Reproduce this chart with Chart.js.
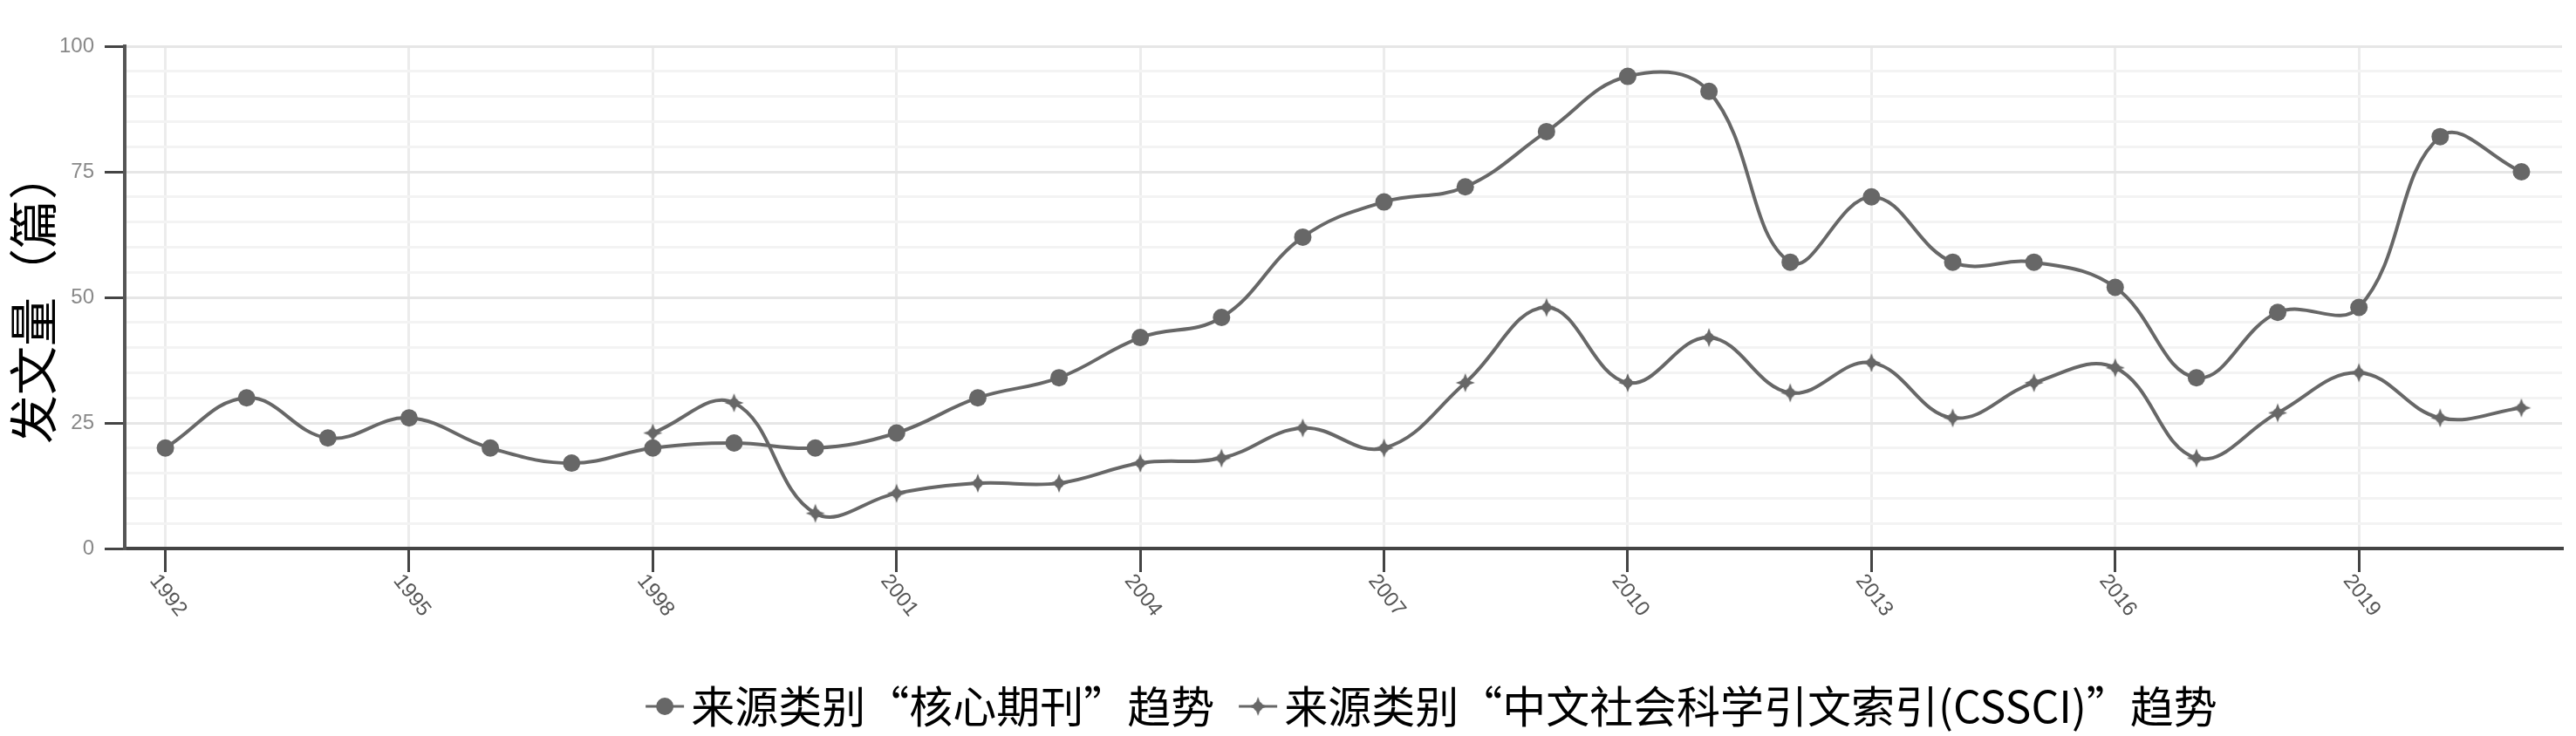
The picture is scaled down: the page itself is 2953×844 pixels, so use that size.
<!DOCTYPE html>
<html>
<head>
<meta charset="utf-8">
<script src="https://cdn.jsdelivr.net/npm/chart.js@4/dist/chart.umd.min.js"></script>
<style>
  html, body { margin: 0; padding: 0; background: #ffffff; }
  #wrap { position: relative; width: 2953px; height: 844px; }
</style>
</head>
<body>
<div id="wrap"><canvas id="c"></canvas></div>
<script>
// ---- data ----
const years = ['1992','1993','1994','1995','1996','1997','1998','1999','2000','2001',
               '2002','2003','2004','2005','2006','2007','2008','2009','2010','2011',
               '2012','2013','2014','2015','2016','2017','2018','2019','2020','2021'];
const coreValues = [20,30,22,26,20,17,20,21,20,23,
                    30,34,42,46,62,69,72,83,94,91,
                    57,70,57,57,52,34,47,48,82,75];
const cssciValues = [null,null,null,null,null,null,23,29,7,11,
                     13,13,17,18,24,20,33,48,33,42,
                     31,37,26,33,36,18,27,35,26,28];
const xTickLabels = ['1992','1995','1998','2001','2004','2007','2010','2013','2016','2019'];
const yTickLabels = [0,25,50,75,100];
const seriesNames = ['来源类别“核心期刊”趋势', '来源类别“中文社会科学引文索引(CSSCI)”趋势'];
const yAxisTitle = '发文量（篇）';

// ---- styles ----
const LINE = '#676767';
const CJK = '"Noto Sans CJK SC", "Noto Sans", sans-serif';

function makeStar(r) {
  const s = 2 * r + 4;
  const c = document.createElement('canvas');
  c.width = s; c.height = s;
  const g = c.getContext('2d');
  g.translate(s / 2, s / 2);
  g.fillStyle = LINE;
  const k = r * 0.38;
  g.beginPath();
  for (let i = 0; i < 8; i++) {
    const a = -Math.PI / 2 + i * Math.PI / 4;
    const rad = (i % 2 === 0) ? r : k;
    const px = Math.cos(a) * rad, py = Math.sin(a) * rad;
    if (i === 0) g.moveTo(px, py); else g.lineTo(px, py);
  }
  g.closePath();
  g.fill();
  g.beginPath();
  g.arc(0, 0, r * 0.5, 0, Math.PI * 2);
  g.fill();
  return c;
}
const starImg = makeStar(11);

const xLabelPlugin = {
  id: 'rotatedXLabels',
  afterDraw(chart) {
    const xs = chart.scales.x;
    const ctx = chart.ctx;
    ctx.save();
    ctx.font = '24px "Liberation Sans", Arial, sans-serif';
    ctx.fillStyle = '#555555';
    ctx.textAlign = 'center';
    ctx.textBaseline = 'middle';
    xTickLabels.forEach(lbl => {
      const i = years.indexOf(lbl);
      const px = xs.getPixelForValue(i);
      const py = xs.top + 54;
      ctx.save();
      ctx.translate(px + 3, py);
      ctx.rotate(52 * Math.PI / 180);
      ctx.fillText(lbl, 0, 0);
      ctx.restore();
    });
    ctx.restore();
  }
};

const legendPlugin = {
  id: 'bottomLegend',
  afterDraw(chart) {
    const ctx = chart.ctx;
    const ds = chart.data.datasets;
    ctx.save();
    ctx.font = '50px ' + CJK;
    const markerW = 44, gapText = 8, gapItem = 28;
    const widths = ds.map(d => ctx.measureText(d.label).width);
    const total = widths.reduce((a, b) => a + b, 0) + ds.length * (markerW + gapText) + (ds.length - 1) * gapItem;
    let x = 1641 - total / 2;
    const y = 810;
    ds.forEach((d, i) => {
      ctx.strokeStyle = LINE;
      ctx.lineWidth = 3;
      ctx.beginPath();
      ctx.moveTo(x, y);
      ctx.lineTo(x + markerW, y);
      ctx.stroke();
      const cx = x + markerW / 2;
      if (i === 0) {
        ctx.fillStyle = LINE;
        ctx.beginPath();
        ctx.arc(cx, y, 10, 0, Math.PI * 2);
        ctx.fill();
      } else {
        ctx.drawImage(starImg, cx - starImg.width / 2, y - starImg.height / 2);
      }
      x += markerW + gapText;
      ctx.fillStyle = '#000000';
      ctx.textAlign = 'left';
      ctx.textBaseline = 'middle';
      ctx.fillText(d.label, x, y);
      x += widths[i] + gapItem;
    });
    ctx.restore();
  }
};

new Chart(document.getElementById('c'), {
  type: 'line',
  data: {
    labels: years,
    datasets: [
      {
        label: seriesNames[0],
        data: coreValues,
        borderColor: LINE,
        backgroundColor: LINE,
        borderWidth: 4,
        tension: 0.4,
        pointStyle: 'circle',
        pointRadius: 10,
        pointBorderWidth: 0,
        pointBackgroundColor: LINE,
        fill: false
      },
      {
        label: seriesNames[1],
        data: cssciValues,
        borderColor: LINE,
        backgroundColor: LINE,
        borderWidth: 4,
        tension: 0.4,
        pointStyle: starImg,
        pointRadius: 11,
        pointBorderWidth: 0,
        pointBackgroundColor: LINE,
        fill: false
      }
    ]
  },
  options: {
    responsive: true,
    maintainAspectRatio: false,
    animation: false,
    events: [],
    layout: { padding: { top: 53, right: 16, bottom: 0, left: 0 } },
    plugins: {
      legend: { display: false },
      tooltip: { enabled: false }
    },
    scales: {
      x: {
        type: 'category',
        offset: true,
        ticks: { display: false, autoSkip: false },
        grid: {
          offset: false,
          lineWidth: 3,
          color: c => xTickLabels.includes(years[c.index]) ? '#ececec' : 'rgba(0,0,0,0)',
          tickColor: c => xTickLabels.includes(years[c.index]) ? '#444444' : 'rgba(0,0,0,0)',
          tickLength: 27,
          tickWidth: 3
        },
        border: { color: '#444444', width: 4 },
        afterFit: s => { s.height = 215; }
      },
      y: {
        min: 0,
        max: 100,
        ticks: {
          stepSize: 5,
          autoSkip: false,
          padding: 12,
          color: '#888888',
          font: { size: 24, family: '"Liberation Sans", Arial, sans-serif' },
          callback: v => yTickLabels.includes(v) ? String(v) : ''
        },
        grid: {
          lineWidth: 3,
          color: c => (c.tick && yTickLabels.includes(c.tick.value)) ? '#e6e6e6' : '#f3f3f3',
          tickColor: c => (c.tick && yTickLabels.includes(c.tick.value)) ? '#444444' : 'rgba(0,0,0,0)',
          tickLength: 23,
          tickWidth: 3
        },
        border: { color: '#555555', width: 4 },
        title: {
          display: true,
          text: yAxisTitle,
          color: '#000000',
          font: { size: 56, family: CJK }
        },
        afterFit: s => { s.width = 143; }
      }
    }
  },
  plugins: [xLabelPlugin, legendPlugin]
});
</script>
</body>
</html>
